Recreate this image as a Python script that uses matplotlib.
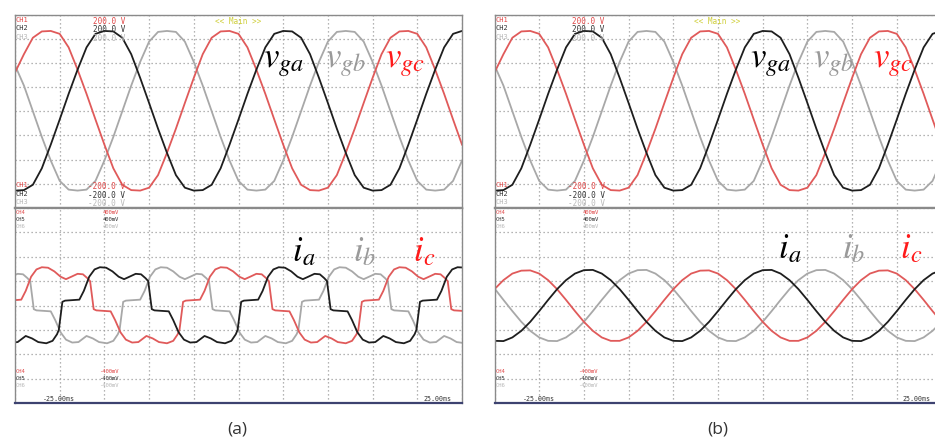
import matplotlib
matplotlib.use("Agg")
import matplotlib.pyplot as plt
from matplotlib.ticker import MultipleLocator

plt.rcParams["mathtext.fontset"] = "stix"

# ---------------- data (time in ms) ----------------
t_v = list(range(-25, 26))
# grid voltages (V), same recording shown in (a) and (b)
v_ga = [-164, -163, -152, -118, -69, -17, 36, 86, 132, 160, 166, 165, 152, 118, 69, 17, -36, -86, -132, -158,
        -164, -163, -152, -118, -69, -17, 36, 86, 132, 160, 166, 165, 152, 118, 69, 17, -36, -86, -132, -158,
        -164, -163, -152, -118, -69, -17, 36, 86, 132, 160, 166]
v_gb = [95, 53, 0, -53, -102, -144, -162, -164, -162, -144, -102, -53, 0, 53, 102, 144, 164, 166, 164, 144,
        102, 53, 0, -53, -102, -144, -162, -164, -162, -144, -102, -53, 0, 53, 102, 144, 164, 166, 164, 144,
        102, 53, 0, -53, -102, -144, -162, -164, -162, -144, -102]
v_gc = [80, 118, 152, 165, 166, 160, 132, 86, 36, -17, -69, -118, -152, -163, -164, -158, -132, -86, -36, 17,
        69, 118, 152, 165, 166, 160, 132, 86, 36, -17, -69, -118, -152, -163, -164, -158, -132, -86, -36, 17,
        69, 118, 152, 165, 166, 160, 132, 86, 36, -17, -69]

# (a) currents (ms, mV) - distorted
ia_a_pts = [(-25.0, -151), (-24.7, -150), (-23.8, -125), (-23.1, -135), (-22.4, -150), (-21.5, -155),
            (-20.8, -145), (-20.3, -118), (-20.1, -100),
            (-19.7, 15), (-19.4, 20), (-17.8, 24), (-17.3, 60), (-16.7, 118), (-16.1, 148), (-15.5, 157),
            (-14.8, 155), (-14.1, 140), (-13.4, 118), (-12.8, 108), (-12.2, 118), (-11.5, 130), (-10.9, 128),
            (-10.4, 112), (-10.1, 100),
            (-9.7, -15), (-9.4, -20), (-7.8, -24), (-7.3, -60), (-6.7, -110), (-6.1, -140), (-5.4, -152),
            (-4.7, -150), (-3.8, -125), (-3.1, -135), (-2.4, -150), (-1.5, -155), (-0.8, -145), (-0.3, -118),
            (-0.1, -100),
            (0.3, 15), (0.6, 20), (2.2, 24), (2.7, 60), (3.3, 118), (3.9, 148), (4.5, 157), (5.2, 155),
            (5.9, 140), (6.6, 118), (7.2, 108), (7.8, 118), (8.5, 130), (9.1, 128), (9.6, 112), (9.9, 100),
            (10.3, -15), (10.6, -20), (12.2, -24), (12.7, -60), (13.3, -110), (13.9, -140), (14.6, -152),
            (15.3, -150), (16.2, -125), (16.9, -135), (17.6, -150), (18.5, -155), (19.2, -145), (19.7, -118),
            (19.9, -100),
            (20.3, 15), (20.6, 20), (22.2, 24), (22.7, 60), (23.3, 118), (23.9, 148), (24.5, 157), (25.0, 156)]
ib_a_pts = [(-25.0, 126), (-24.7, 130), (-24.1, 128), (-23.6, 112), (-23.3, 100),
            (-22.9, -15), (-22.6, -20), (-21.0, -24), (-20.5, -60), (-19.9, -110), (-19.3, -140),
            (-18.6, -152), (-17.9, -150), (-17.0, -125), (-16.3, -135), (-15.6, -150), (-14.7, -155),
            (-14.0, -145), (-13.5, -118), (-13.3, -100),
            (-12.9, 15), (-12.6, 20), (-11.0, 24), (-10.5, 60), (-9.9, 118), (-9.3, 148), (-8.7, 157),
            (-8.0, 155), (-7.3, 140), (-6.6, 118), (-6.0, 108), (-5.4, 118), (-4.7, 130), (-4.1, 128),
            (-3.6, 112), (-3.3, 100),
            (-2.9, -15), (-2.6, -20), (-1.0, -24), (-0.5, -60), (0.1, -110), (0.7, -140), (1.4, -152),
            (2.1, -150), (3.0, -125), (3.7, -135), (4.4, -150), (5.3, -155), (6.0, -145), (6.5, -118),
            (6.7, -100),
            (7.1, 15), (7.4, 20), (9.0, 24), (9.5, 60), (10.1, 118), (10.7, 148), (11.3, 157), (12.0, 155),
            (12.7, 140), (13.4, 118), (14.0, 108), (14.6, 118), (15.3, 130), (15.9, 128), (16.4, 112),
            (16.7, 100),
            (17.1, -15), (17.4, -20), (19.0, -24), (19.5, -60), (20.1, -110), (20.7, -140), (21.4, -152),
            (22.1, -150), (23.0, -125), (23.7, -135), (24.4, -150), (25.0, -153)]
ic_a_pts = [(-25.0, 22), (-24.3, 24), (-23.8, 60), (-23.2, 118), (-22.6, 148), (-22.0, 157), (-21.3, 155),
            (-20.6, 140), (-19.9, 118), (-19.3, 108), (-18.7, 118), (-18.0, 130), (-17.4, 128),
            (-16.9, 112), (-16.6, 100),
            (-16.2, -15), (-15.9, -20), (-14.3, -24), (-13.8, -60), (-13.2, -110), (-12.6, -140),
            (-11.9, -152), (-11.2, -150), (-10.3, -125), (-9.6, -135), (-8.9, -150), (-8.0, -155),
            (-7.3, -145), (-6.8, -118), (-6.6, -100),
            (-6.2, 15), (-5.9, 20), (-4.3, 24), (-3.8, 60), (-3.2, 118), (-2.6, 148), (-2.0, 157),
            (-1.3, 155), (-0.6, 140), (0.1, 118), (0.7, 108), (1.3, 118), (2.0, 130), (2.6, 128), (3.1, 112),
            (3.4, 100),
            (3.8, -15), (4.1, -20), (5.7, -24), (6.2, -60), (6.8, -110), (7.4, -140), (8.1, -152),
            (8.8, -150), (9.7, -125), (10.4, -135), (11.1, -150), (12.0, -155), (12.7, -145), (13.2, -118),
            (13.4, -100),
            (13.8, 15), (14.1, 20), (15.7, 24), (16.2, 60), (16.8, 118), (17.4, 148), (18.0, 157),
            (18.7, 155), (19.4, 140), (20.1, 118), (20.7, 108), (21.3, 118), (22.0, 130), (22.6, 128),
            (23.1, 112), (23.4, 100),
            (23.8, -15), (24.1, -20), (25.0, -22)]

# (b) currents (mV) - sinusoidal
t_i_b = list(range(-25, 26))
ia_b = [-145, -146, -131, -104, -67, -23, 23, 67, 104, 131, 145, 146, 131, 104, 67, 23, -23, -67, -104, -131,
        -145, -146, -131, -104, -67, -23, 23, 67, 104, 131, 145, 146, 131, 104, 67, 23, -23, -67, -104, -131,
        -145, -146, -131, -104, -67, -23, 23, 67, 104, 131, 145]
ib_b = [70, 23, -23, -67, -104, -131, -145, -146, -131, -104, -67, -23, 23, 67, 104, 131, 145, 146, 131, 104,
        67, 23, -23, -67, -104, -131, -145, -146, -131, -104, -67, -23, 23, 67, 104, 131, 145, 146, 131, 104,
        67, 23, -23, -67, -104, -131, -145, -146, -131, -104, -67]
ic_b = [67, 104, 131, 143, 144, 131, 104, 67, 23, -23, -67, -104, -131, -145, -145, -131, -104, -67, -23, 23,
        67, 104, 131, 143, 144, 131, 104, 67, 23, -23, -67, -104, -131, -145, -145, -131, -104, -67, -23, 23,
        67, 104, 131, 143, 144, 131, 104, 67, 23, -23, -67]

# ---------------- styling ----------------
W, H = 935, 439
RED, BLK, GRY = "#e05a5a", "#1e1e1e", "#a8a8a8"
fig = plt.figure(figsize=(W / 100, H / 100), dpi=100)
fig.patch.set_facecolor("white")

panel_left = {"a": 15.0, "b": 494.5}
pw = 447.0
top_y0, mid_y, bot_y1 = 15.5, 209.0, 404.0


def ax_at(x0, y0, y1):
    return fig.add_axes([x0 / W, 1 - y1 / H, pw / W, (y1 - y0) / H])


def style(ax, ylim, ystep):
    ax.set_xlim(-25, 25)
    ax.set_ylim(-ylim, ylim)
    ax.xaxis.set_major_locator(MultipleLocator(5))
    ax.yaxis.set_major_locator(MultipleLocator(ystep))
    ax.grid(True, color="#9c9c9c", linestyle=(0, (1, 2.2)), linewidth=0.9)
    ax.tick_params(length=0, labelbottom=False, labelleft=False)
    for s in ax.spines.values():
        s.set_color("#8a8a8a")
        s.set_linewidth(1.0)


def ftext(x, y, s, color, size=5.5):
    fig.text(x / W, 1 - y / H, s, color=color, va="top", ha="left",
             family="DejaVu Sans Mono", fontsize=size)


def unzip(pts):
    return [p[0] for p in pts], [p[1] for p in pts]


ta_a, ia_a = unzip(ia_a_pts)
tb_a, ib_a = unzip(ib_a_pts)
tc_a, ic_a = unzip(ic_a_pts)
currents = {"a": (ta_a, ia_a, tb_a, ib_a, tc_a, ic_a),
            "b": (t_i_b, ia_b, t_i_b, ib_b, t_i_b, ic_b)}
vlab_x = {"a": (2.74, 9.68, 16.39), "b": (3.58, 10.63, 17.34)}
ilab = {"a": ((5.98, 12.8, 19.5), 184), "b": ((6.71, 13.87, 20.36), 199)}

for key in ("a", "b"):
    x0 = panel_left[key]
    axt = ax_at(x0, top_y0, mid_y)
    axb = ax_at(x0, mid_y, bot_y1)
    style(axt, 200, 50)
    style(axb, 400, 100)
    axb.spines["top"].set_linewidth(1.6)
    axt.spines["bottom"].set_linewidth(1.6)
    axb.spines["bottom"].set_color("#3d4270")
    axb.spines["bottom"].set_linewidth(1.6)

    # voltages
    axt.plot(t_v, v_gb, color=GRY, lw=1.3)
    axt.plot(t_v, v_gc, color=RED, lw=1.3)
    axt.plot(t_v, v_ga, color=BLK, lw=1.3)
    # currents
    ta, ia, tb, ib, tc, ic = currents[key]
    axb.plot(tb, ib, color=GRY, lw=1.3)
    axb.plot(tc, ic, color=RED, lw=1.3)
    axb.plot(ta, ia, color=BLK, lw=1.3)

    xa, xb, xc = vlab_x[key]
    axt.text(xa, 93, r"$v_{ga}$", color="black", fontsize=25, va="baseline")
    axt.text(xb, 93, r"$v_{gb}$", color="#9a9a9a", fontsize=25, va="baseline")
    axt.text(xc, 93, r"$v_{gc}$", color="#ff1a1a", fontsize=25, va="baseline")
    (ja, jb, jc), yb = ilab[key]
    axb.text(ja, yb, r"$\mathbf{\mathit{i}}_{a}$", color="black", fontsize=25, va="baseline")
    axb.text(jb, yb, r"$i_{b}$", color="#9a9a9a", fontsize=25, va="baseline")
    axb.text(jc, yb, r"$\mathbf{\mathit{i}}_{c}$", color="#ff1a1a", fontsize=25, va="baseline")

    dx = x0 - 15.0
    # oscilloscope annotations
    for row, (ch, col) in enumerate([("CH1", "#e04848"), ("CH2", "#333333"), ("CH3", "#b8b8b8")]):
        ftext(16 + dx, 16.5 + 8.6 * row, ch, col, 5.0)
        ftext(93 + dx, 16.5 + 8.6 * row, "200.0 V", col, 5.5)
        ftext(16 + dx, 182.5 + 8.4 * row, ch, col, 5.0)
        ftext(88 + dx, 182.5 + 8.4 * row, "-200.0 V", col, 5.5)
    for row, (ch, col) in enumerate([("CH4", "#e04848"), ("CH5", "#333333"), ("CH6", "#b8b8b8")]):
        ftext(16 + dx, 210.3 + 6.8 * row, ch, col, 4.0)
        ftext(103 + dx, 210.3 + 6.8 * row, "400mV", col, 4.0)
        ftext(16 + dx, 369.0 + 6.8 * row, ch, col, 4.0)
        ftext(99 + dx, 369.0 + 6.8 * row, "-400mV", col, 4.0)
    ftext(215 + dx, 16.5, "<< Main >>", "#cfcf3a", 5.5)
    ftext(43 + dx, 396.5, "-25.00ms", "#333333", 4.8)
    ftext(423 + dx, 396.5, "25.00ms", "#333333", 4.8)

fig.text(237 / W, 1 - 430 / H, "(a)", ha="center", va="center", fontsize=12.5,
         family="Open Sans", color="#333333")
fig.text(718 / W, 1 - 430 / H, "(b)", ha="center", va="center", fontsize=12.5,
         family="Open Sans", color="#333333")

fig.savefig("out.png", dpi=100, facecolor="white")
